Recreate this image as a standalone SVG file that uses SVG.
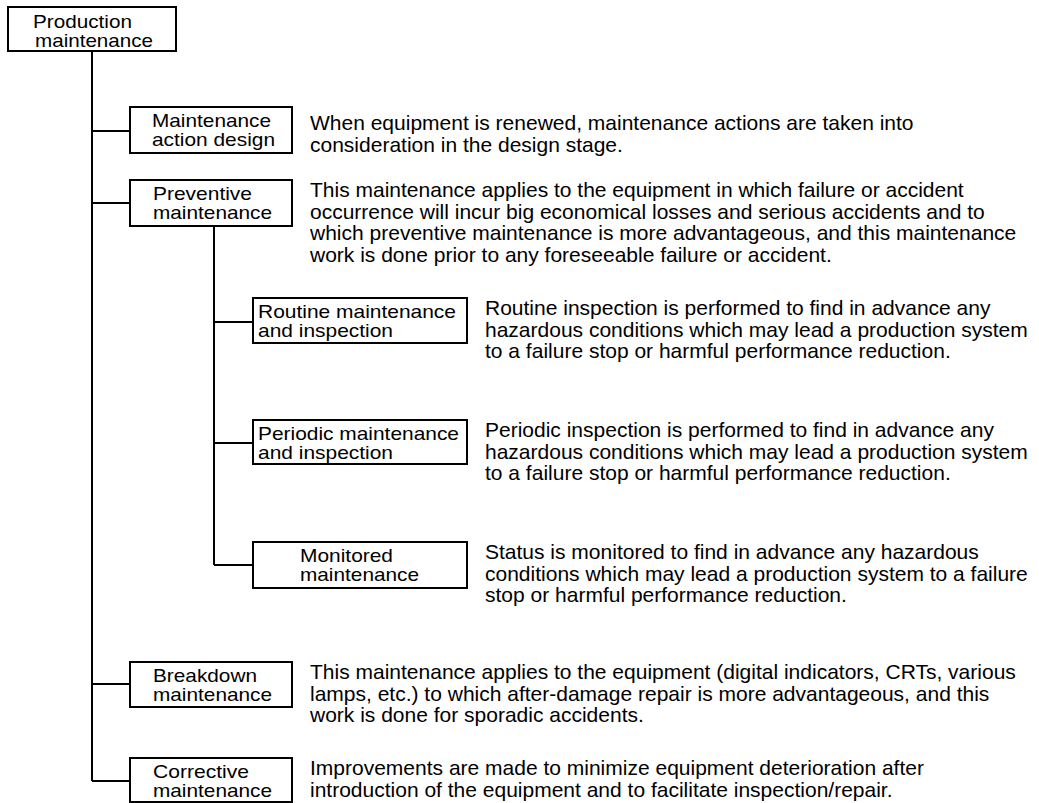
<svg xmlns="http://www.w3.org/2000/svg" width="1039" height="803" viewBox="0 0 1039 803">
<style>
.box{fill:#fff;stroke:#000;stroke-width:2}
.ln{fill:none;stroke:#000;stroke-width:2}
text{font-family:"Liberation Sans",Arial,sans-serif;font-size:21px;fill:#000}
text.lb{font-size:19px}
</style>
<rect width="1039" height="803" fill="#fff"/>
<g id="connectors">
<path class="ln" d="M92,51 V781 M92,131 H130 M92,203 H130 M92,684 H130 M92,781 H130"/>
<path class="ln" d="M214,226 V565 M214,322 H253 M214,443 H253 M214,565 H253"/>
</g>
<g id="production">
<rect class="box" x="8" y="7" width="168" height="44"/>
<text class="lb" x="33" y="28" textLength="99" lengthAdjust="spacingAndGlyphs">Production</text>
<text class="lb" x="35" y="47" textLength="118" lengthAdjust="spacingAndGlyphs">maintenance</text>
</g>
<g id="mad">
<rect class="box" x="130" y="107" width="162" height="46"/>
<text class="lb" x="152" y="127" textLength="119" lengthAdjust="spacingAndGlyphs">Maintenance</text>
<text class="lb" x="152" y="146" textLength="123" lengthAdjust="spacingAndGlyphs">action design</text>
<text x="310" y="130">When equipment is renewed, maintenance actions are taken into</text>
<text x="310" y="152">consideration in the design stage.</text>
</g>
<g id="preventive">
<rect class="box" x="130" y="180" width="162" height="46"/>
<text class="lb" x="153" y="200" textLength="99" lengthAdjust="spacingAndGlyphs">Preventive</text>
<text class="lb" x="153" y="219" textLength="119" lengthAdjust="spacingAndGlyphs">maintenance</text>
<text x="310" y="197">This maintenance applies to the equipment in which failure or accident</text>
<text x="310" y="219">occurrence will incur big economical losses and serious accidents and to</text>
<text x="310" y="240">which preventive maintenance is more advantageous, and this maintenance</text>
<text x="310" y="262">work is done prior to any foreseeable failure or accident.</text>
</g>
<g id="routine">
<rect class="box" x="253" y="298" width="214" height="45"/>
<text class="lb" x="258" y="318" textLength="198" lengthAdjust="spacingAndGlyphs">Routine maintenance</text>
<text class="lb" x="258" y="337" textLength="135" lengthAdjust="spacingAndGlyphs">and inspection</text>
<text x="485" y="315">Routine inspection is performed to find in advance any</text>
<text x="485" y="337">hazardous conditions which may lead a production system</text>
<text x="485" y="358">to a failure stop or harmful performance reduction.</text>
</g>
<g id="periodic">
<rect class="box" x="253" y="420" width="214" height="44"/>
<text class="lb" x="258" y="440" textLength="201" lengthAdjust="spacingAndGlyphs">Periodic maintenance</text>
<text class="lb" x="258" y="459" textLength="135" lengthAdjust="spacingAndGlyphs">and inspection</text>
<text x="485" y="437">Periodic inspection is performed to find in advance any</text>
<text x="485" y="459">hazardous conditions which may lead a production system</text>
<text x="485" y="480">to a failure stop or harmful performance reduction.</text>
</g>
<g id="monitored">
<rect class="box" x="253" y="542" width="214" height="46"/>
<text class="lb" x="300" y="562" textLength="93" lengthAdjust="spacingAndGlyphs">Monitored</text>
<text class="lb" x="300" y="581" textLength="119" lengthAdjust="spacingAndGlyphs">maintenance</text>
<text x="485" y="559">Status is monitored to find in advance any hazardous</text>
<text x="485" y="581">conditions which may lead a production system to a failure</text>
<text x="485" y="602">stop or harmful performance reduction.</text>
</g>
<g id="breakdown">
<rect class="box" x="130" y="662" width="162" height="45"/>
<text class="lb" x="153" y="682" textLength="104" lengthAdjust="spacingAndGlyphs">Breakdown</text>
<text class="lb" x="153" y="701" textLength="119" lengthAdjust="spacingAndGlyphs">maintenance</text>
<text x="310" y="679">This maintenance applies to the equipment (digital indicators, CRTs, various</text>
<text x="310" y="701">lamps, etc.) to which after-damage repair is more advantageous, and this</text>
<text x="310" y="722">work is done for sporadic accidents.</text>
</g>
<g id="corrective">
<rect class="box" x="130" y="758" width="162" height="44"/>
<text class="lb" x="153" y="778" textLength="96" lengthAdjust="spacingAndGlyphs">Corrective</text>
<text class="lb" x="153" y="797" textLength="119" lengthAdjust="spacingAndGlyphs">maintenance</text>
<text x="310" y="775">Improvements are made to minimize equipment deterioration after</text>
<text x="310" y="797">introduction of the equipment and to facilitate inspection/repair.</text>
</g>
</svg>
